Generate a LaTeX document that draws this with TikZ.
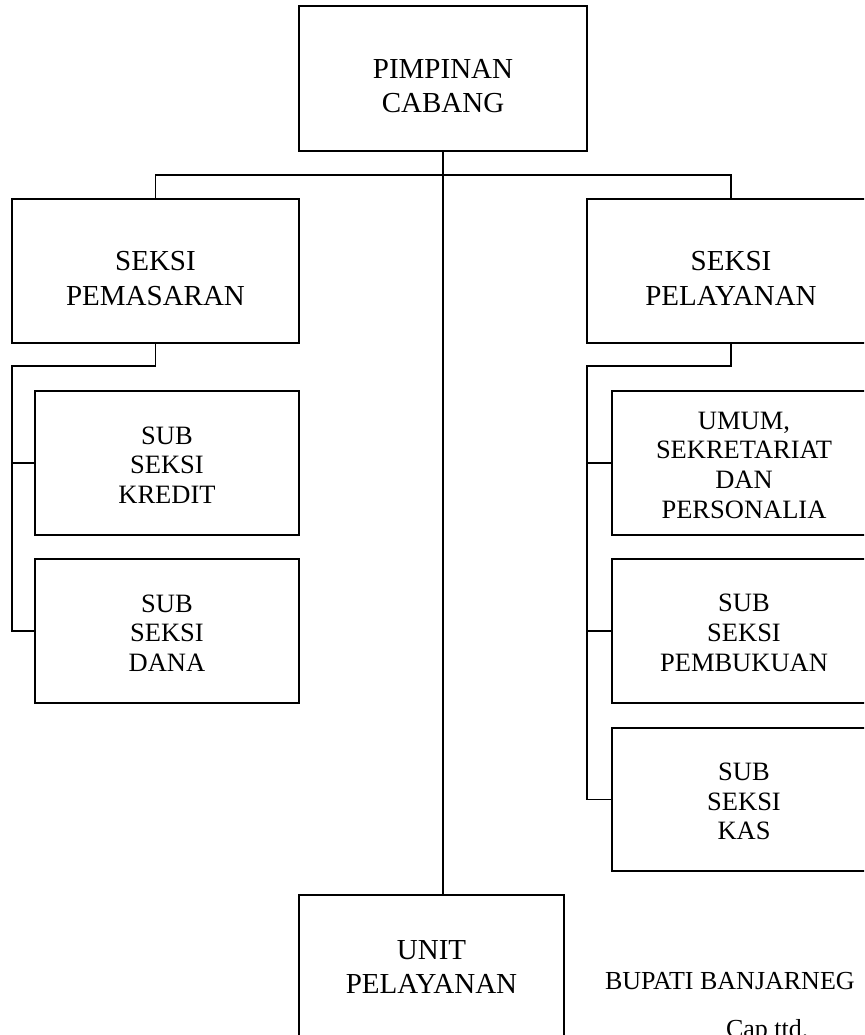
\documentclass[tikz,border=0pt]{standalone}
\usepackage{fontspec}
\setmainfont{Liberation Serif}
\newcommand{\mainstrut}{\rule{0pt}{34pt}}
\newcommand{\substrut}{\rule{0pt}{21.5pt}}
\begin{document}
\begin{tikzpicture}[x=1pt,y=-1pt,line width=1.5pt,
  mainbox/.style={draw,inner sep=0pt,outer sep=0pt,align=center,
    font=\fontsize{29}{34.5}\selectfont,minimum height=144pt},
  unitbox/.style={draw,inner sep=0pt,outer sep=0pt,align=center,
    font=\fontsize{29}{34.5}\selectfont,minimum height=144pt},
  subbox/.style={draw,inner sep=0pt,outer sep=0pt,align=center,
    font=\fontsize{26.5}{29.7}\selectfont,minimum width=264pt,minimum height=144pt},
  note/.style={inner sep=0pt,outer sep=0pt,font=\fontsize{26}{30}\selectfont,anchor=base west}]
\useasboundingbox (0,0) rectangle (864,1035);
\clip (0,0) rectangle (864,1035);

\node[mainbox,minimum width=288pt,minimum height=145pt] (top) at (443,78.5) {\mainstrut PIMPINAN\\CABANG};
\node[mainbox,minimum width=287pt] (pem) at (155.5,271) {\mainstrut SEKSI\\PEMASARAN};
\node[mainbox,minimum width=288pt] (pel) at (731,271) {\mainstrut SEKSI\\PELAYANAN};

\node[subbox] (kredit) at (167,463) {\substrut SUB\\SEKSI\\KREDIT};
\node[subbox] (dana) at (167,631) {\substrut SUB\\SEKSI\\DANA};
\node[subbox] (umum) at (744,463) {\substrut UMUM,\\SEKRETARIAT\\DAN\\PERSONALIA};
\node[subbox] (pemb) at (744,631) {\substrut SUB\\SEKSI\\PEMBUKUAN};
\node[subbox,minimum height=143pt] (kas) at (744,799.5) {\substrut SUB\\SEKSI\\KAS};

\node[unitbox,minimum width=265pt] (unit) at (431.5,967) {UNIT\\PELAYANAN};

\node[note] (bupati) at (605,989) {BUPATI BANJARNEG};
\node[note] (cap) at (726,1037) {Cap ttd.};

\coordinate (bus) at (443,175);
\coordinate (lj) at (12,366);
\coordinate (rj) at (587,366);

\draw (top.south) -- (top.south |- unit.north);
\draw (pem.north) |- (bus) -| (pel.north);
\draw (pem.south) |- (lj) |- (dana.west);
\draw (kredit.west) -- (kredit.west -| lj);
\draw (pel.south) |- (rj) |- (kas.west);
\draw (umum.west) -- (umum.west -| rj);
\draw (pemb.west) -- (pemb.west -| rj);
\end{tikzpicture}
\end{document}
